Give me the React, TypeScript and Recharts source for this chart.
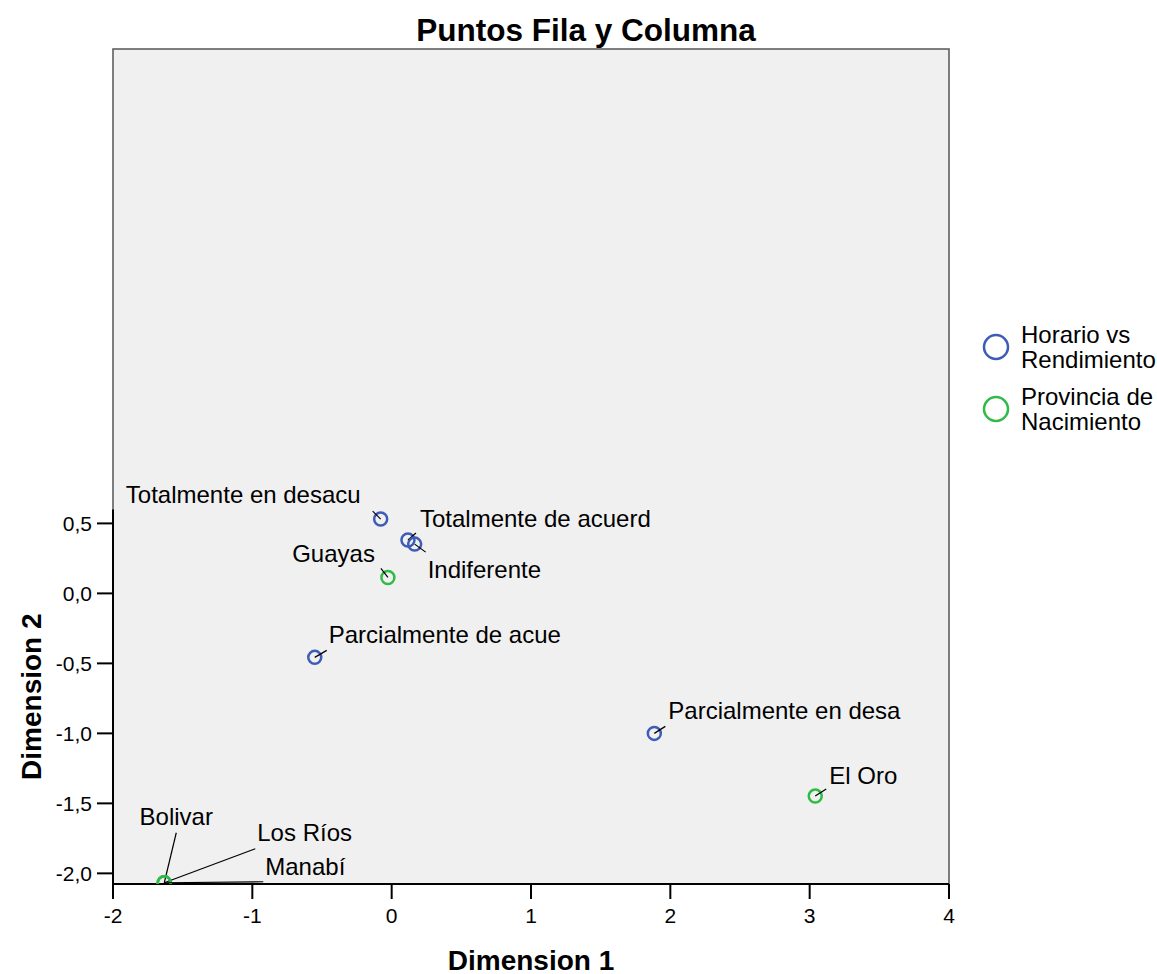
import {
  Customized,
  ReferenceArea,
  ReferenceLine,
  Scatter,
  ScatterChart,
  XAxis,
  YAxis,
} from "recharts";

type Pt = { name: string; x: number; y: number };

// row points: Horario vs Rendimiento
const rowNames = [
  "Totalmente en desacu",
  "Totalmente de acuerd",
  "Indiferente",
  "Parcialmente de acue",
  "Parcialmente en desa",
];
const rowDim1 = [-0.079, 0.117, 0.165, -0.552, 1.885];
const rowDim2 = [0.531, 0.381, 0.352, -0.457, -1.0];

// column points: Provincia de Nacimiento
const colNames = ["Guayas", "El Oro", "Bolivar", "Los Ríos", "Manabí"];
const colDim1 = [-0.027, 3.04, -1.632, -1.632, -1.632];
const colDim2 = [0.114, -1.448, -2.067, -2.067, -2.067];

const xTicks = [-2, -1, 0, 1, 2, 3, 4];
const yTicks = [-2, -1.5, -1, -0.5, 0, 0.5];

const legendLines = [
  ["Horario vs", "Rendimiento"],
  ["Provincia de", "Nacimiento"],
];

const BLUE = "#3d5cb8";
const GREEN = "#2fbb48";
const FONT = "Arial, 'Liberation Sans', sans-serif";

const X_DOMAIN: [number, number] = [-2, 4];
const Y_DOMAIN: [number, number] = [-2.076, 3.889];
const Y_AXIS_TOP = 0.6;

const rows: Pt[] = rowNames.map((name, i) => ({ name, x: rowDim1[i], y: rowDim2[i] }));
const cols: Pt[] = colNames.map((name, i) => ({ name, x: colDim1[i], y: colDim2[i] }));

// label text offset (dx, dy) and leader-line end (lx, ly), in px from the marker centre
type Place = { dx: number; dy: number; anchor: "start" | "middle" | "end"; lx: number; ly: number };
const place: Record<string, Place> = {
  "Totalmente en desacu": { dx: -20, dy: -25, anchor: "end", lx: -8, ly: -8 },
  "Totalmente de acuerd": { dx: 12, dy: -22, anchor: "start", lx: 8, ly: -7 },
  Indiferente: { dx: 13, dy: 25, anchor: "start", lx: 11, ly: 8 },
  "Parcialmente de acue": { dx: 14, dy: -23, anchor: "start", lx: 12, ly: -7 },
  "Parcialmente en desa": { dx: 14, dy: -23, anchor: "start", lx: 11, ly: -7 },
  Guayas: { dx: -13, dy: -24, anchor: "end", lx: -7, ly: -9 },
  "El Oro": { dx: 14, dy: -21, anchor: "start", lx: 11, ly: -7 },
  Bolivar: { dx: 12, dy: -66, anchor: "middle", lx: 12, ly: -50 },
  "Los Ríos": { dx: 93, dy: -50, anchor: "start", lx: 91, ly: -34 },
  "Manabí": { dx: 101, dy: -16, anchor: "start", lx: 99, ly: -1 },
};

const fmt = (v: number) => v.toFixed(1).replace(".", ",");

function pointShape(color: string) {
  return (props: any) => {
    const { cx, cy, payload } = props;
    const p = place[payload.name];
    return (
      <g>
        <circle cx={cx} cy={cy} r={6.5} fill="none" stroke={color} strokeWidth={2.5} />
        <line x1={cx} y1={cy} x2={cx + p.lx} y2={cy + p.ly} stroke="#000" strokeWidth={1.2} />
        <text
          x={cx + p.dx}
          y={cy + p.dy}
          textAnchor={p.anchor}
          dominantBaseline="central"
          fontSize={24}
          fontFamily={FONT}
          fill="#000"
        >
          {payload.name}
        </text>
      </g>
    );
  };
}

function Title() {
  return (
    <text x={586} y={30} textAnchor="middle" dominantBaseline="central" fontSize={31.5} fontWeight="bold" fontFamily={FONT}>
      Puntos Fila y Columna
    </text>
  );
}

function LegendBox() {
  const colors = [BLUE, GREEN];
  return (
    <g fontFamily={FONT} fontSize={24}>
      {legendLines.map((lines, i) => {
        const cy = 347 + i * 62;
        return (
          <g key={i}>
            <circle cx={996} cy={cy} r={12} fill="none" stroke={colors[i]} strokeWidth={2.5} />
            {lines.map((t, j) => (
              <text key={j} x={1021} y={cy - 13 + j * 25} dominantBaseline="central" fill="#000">
                {t}
              </text>
            ))}
          </g>
        );
      })}
    </g>
  );
}

export default function App() {
  return (
    <div style={{ position: "absolute", left: 0, top: 0, background: "#fff" }}>
      <ScatterChart width={1157} height={974} margin={{ top: 49, right: 208, bottom: 0, left: 13 }}>
        <ReferenceArea
          x1={X_DOMAIN[0]}
          x2={X_DOMAIN[1]}
          y1={Y_DOMAIN[0]}
          y2={Y_DOMAIN[1]}
          fill="#f0f0f0"
          fillOpacity={1}
          stroke="#555"
          strokeWidth={1.5}
        />
        <XAxis
          type="number"
          dataKey="x"
          domain={X_DOMAIN}
          ticks={xTicks}
          allowDataOverflow
          height={90}
          tickSize={15}
          tickMargin={9}
          axisLine={{ stroke: "#000", strokeWidth: 2 }}
          tickLine={{ stroke: "#000", strokeWidth: 2 }}
          tick={{ fill: "#000", fontSize: 21, fontFamily: FONT }}
          label={(props: any) => {
            const vb = props.viewBox;
            return (
              <text
                x={vb.x + vb.width / 2}
                y={vb.y + 76}
                textAnchor="middle"
                dominantBaseline="central"
                fontSize={28}
                fontWeight="bold"
                fontFamily={FONT}
              >
                Dimension 1
              </text>
            );
          }}
        />
        <YAxis
          type="number"
          dataKey="y"
          domain={Y_DOMAIN}
          ticks={yTicks}
          allowDataOverflow
          width={100}
          tickSize={16}
          tickMargin={5}
          tickFormatter={fmt}
          axisLine={false}
          tickLine={{ stroke: "#000", strokeWidth: 2 }}
          tick={{ fill: "#000", fontSize: 21, fontFamily: FONT }}
        />
        <ReferenceLine
          segment={[
            { x: X_DOMAIN[0], y: Y_DOMAIN[0] },
            { x: X_DOMAIN[0], y: Y_AXIS_TOP },
          ]}
          stroke="#000"
          strokeWidth={2}
          ifOverflow="visible"
          label={(props: any) => {
            const vb = props.viewBox;
            const cx = vb.x - 81;
            const cy = vb.y + vb.height / 2;
            return (
              <text
                x={cx}
                y={cy}
                transform={`rotate(-90 ${cx} ${cy})`}
                textAnchor="middle"
                dominantBaseline="central"
                fontSize={28}
                fontWeight="bold"
                fontFamily={FONT}
              >
                Dimension 2
              </text>
            );
          }}
        />
        <Scatter data={rows} shape={pointShape(BLUE)} isAnimationActive={false} />
        <Scatter data={cols} shape={pointShape(GREEN)} isAnimationActive={false} />
        <Customized component={Title} />
        <Customized component={LegendBox} />
      </ScatterChart>
    </div>
  );
}
